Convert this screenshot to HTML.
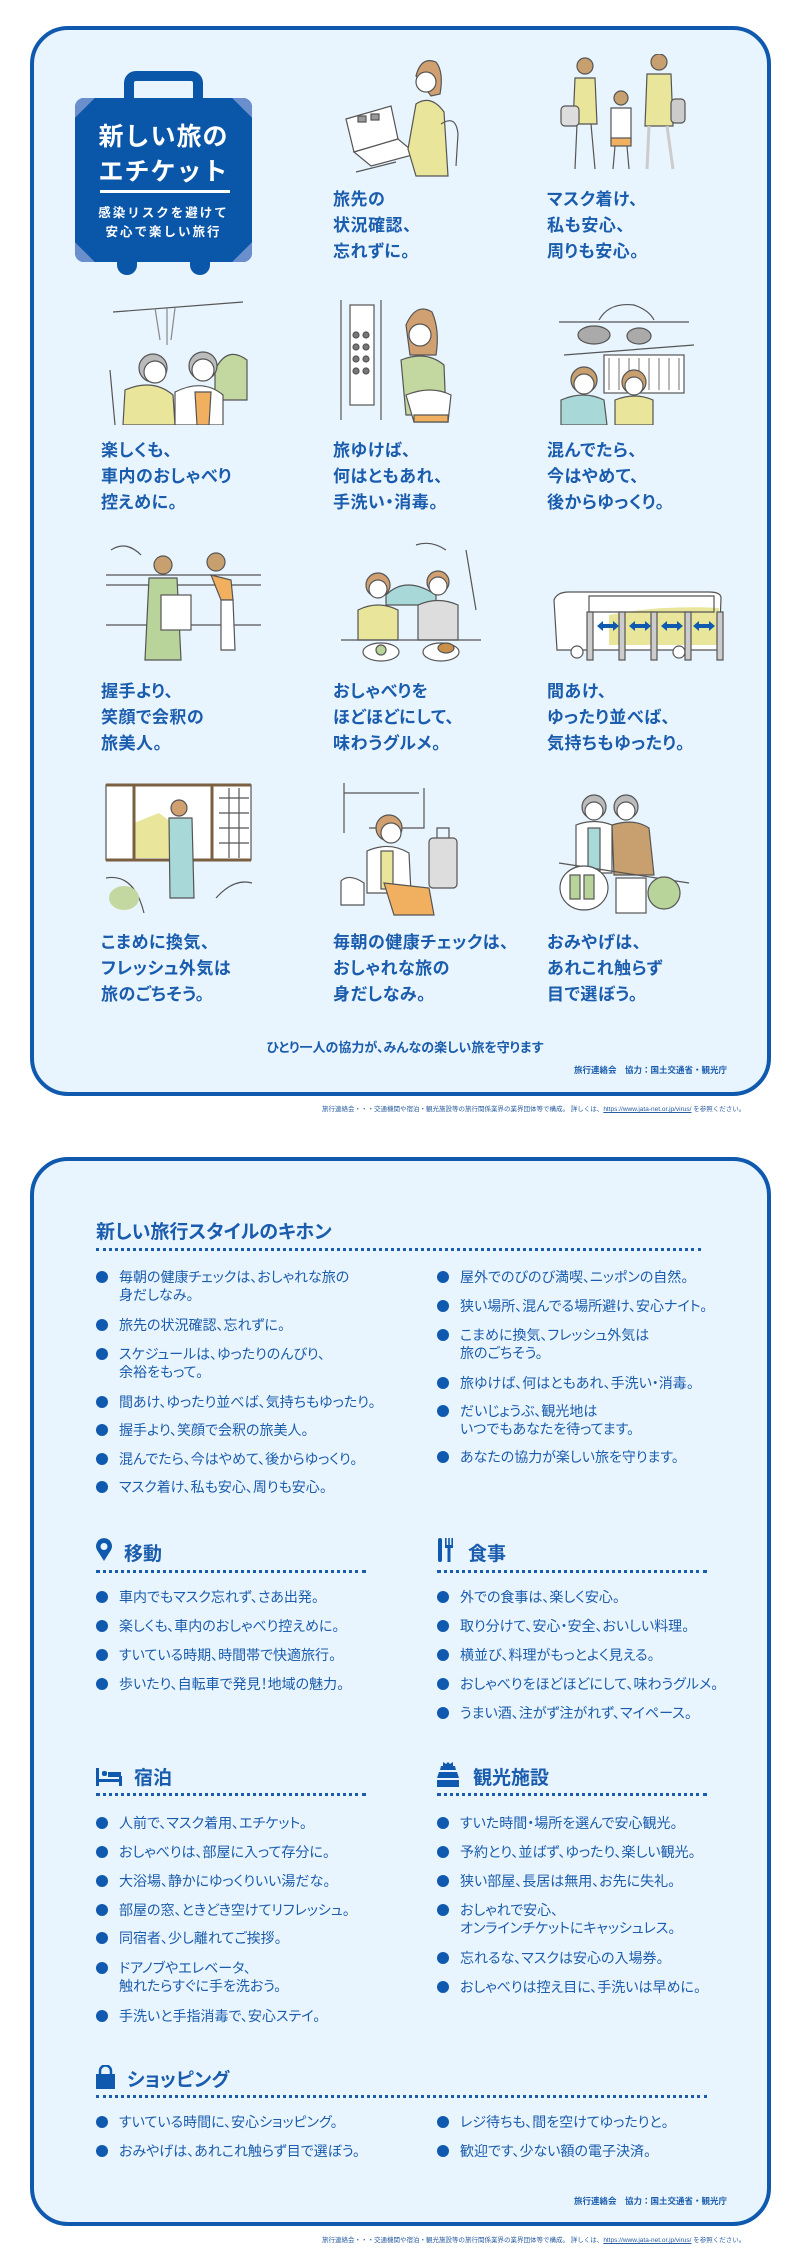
<!DOCTYPE html>
<html><head><meta charset="utf-8">
<style>
*{margin:0;padding:0;box-sizing:border-box}
body{width:800px;height:2263px;background:#fff;position:relative;font-family:"Liberation Sans","Noto Sans CJK JP",sans-serif;color:#1a5cad;overflow:hidden}
.panel{position:absolute;left:30px;width:741px;border:4px solid #0f5aae;border-radius:38px;background:#e9f5fe}
.cap{position:absolute;font-size:17px;font-weight:bold;line-height:26px;white-space:nowrap;letter-spacing:0.5px;font-feature-settings:"palt"}
.abs{position:absolute}
.fn{position:absolute;font-size:6.5px;color:#2a5ca0;white-space:nowrap}
.h{position:absolute;font-size:19px;font-weight:bold;white-space:nowrap;font-feature-settings:"palt"}
.dot{position:absolute;height:0;border-top:3px dotted #1a5cad}
.li{position:absolute;font-size:14px;line-height:18px;white-space:nowrap;padding-left:23px;font-feature-settings:"palt"}
.li:before{content:"";position:absolute;left:0;top:3px;width:12px;height:12px;border-radius:50%;background:#0f5aae}
svg.il{position:absolute}
</style></head><body>

<div class="panel" style="top:26px;height:1070px"></div>

<div class="abs" style="left:124px;top:71px;width:79px;height:34px;border:10px solid #0a56a8;border-bottom:none;border-radius:12px 12px 0 0"></div>
<div class="abs" style="left:117px;top:258px;width:20px;height:17px;background:#0a56a8;border-radius:0 0 10px 10px"></div>
<div class="abs" style="left:190px;top:258px;width:20px;height:17px;background:#0a56a8;border-radius:0 0 10px 10px"></div>
<div class="abs" style="left:75px;top:98px;width:177px;height:164px;background:#0a56a8;border-radius:9px;overflow:hidden">
 <div class="abs" style="left:-14px;top:-14px;width:28px;height:28px;background:#6a8fcc;transform:rotate(45deg)"></div>
 <div class="abs" style="right:-14px;top:-14px;width:28px;height:28px;background:#6a8fcc;transform:rotate(45deg)"></div>
 <div class="abs" style="left:-14px;bottom:-14px;width:28px;height:28px;background:#6a8fcc;transform:rotate(45deg)"></div>
 <div class="abs" style="right:-14px;bottom:-14px;width:28px;height:28px;background:#6a8fcc;transform:rotate(45deg)"></div>
 <div class="abs" style="left:0;width:177px;top:22px;text-align:center;color:#fff;font-size:25px;font-weight:bold;line-height:35px;letter-spacing:1px">新しい旅の<br>エチケット</div>
 <div class="abs" style="left:25px;top:92px;width:130px;height:3px;background:#fff"></div>
 <div class="abs" style="left:0;width:177px;top:106px;text-align:center;color:#fff;font-size:12.5px;font-weight:bold;line-height:19px;letter-spacing:2px">感染リスクを避けて<br>安心で楽しい旅行</div>
</div>

<svg class="il" style="left:336px;top:54px" width="131" height="123" viewBox="0 0 131 123" fill="none" stroke="#555" stroke-width="1.2">
 <path d="M10 65 L55 52 L62 85 L18 98 Z" fill="#fff"/><path d="M18 98 L62 85 L80 100 L35 112 Z" fill="#fff"/>
 <rect x="22" y="62" width="8" height="6" fill="#999"/><rect x="35" y="60" width="8" height="6" fill="#999"/>
 <path d="M80 22 Q85 2 100 8 Q108 18 104 40 L95 42 Z" fill="#d0a070"/>
 <circle cx="90" cy="28" r="10" fill="#fff"/>
 <path d="M80 50 Q95 40 108 58 L112 122 L80 122 L72 95 Z" fill="#e9e59a"/>
 <path d="M105 70 Q120 60 122 80 L120 112" />
 <path d="M20 118 L60 108"/>
</svg>
<svg class="il" style="left:549px;top:54px" width="148" height="123" viewBox="0 0 148 123" stroke="#555" stroke-width="1.2">
 <circle cx="36" cy="12" r="8" fill="#c8a070"/><path d="M26 24 L46 24 L48 70 L24 70 Z" fill="#e9e59a"/>
 <path d="M28 70 L26 115 M42 70 L46 115" fill="none"/><rect x="12" y="52" width="18" height="20" rx="4" fill="#ddd"/>
 <circle cx="110" cy="8" r="8" fill="#c8a070"/><path d="M98 20 L122 20 L124 72 L96 72 Z" fill="#e9e59a"/>
 <path d="M100 72 L98 115 M118 72 L124 115" fill="none" stroke-width="3" stroke="#ccc"/><rect x="122" y="45" width="14" height="24" rx="4" fill="#ccc"/>
 <circle cx="72" cy="44" r="7" fill="#c8a070"/><path d="M62 54 L82 54 L82 88 L62 88 Z" fill="#fff"/>
 <rect x="62" y="84" width="20" height="8" fill="#f0b060"/><path d="M66 92 L64 115 M78 92 L80 115" fill="none"/>
</svg>
<div class="cap" style="left:333px;top:187px">旅先の<br>状況確認、<br>忘れずに。</div>
<div class="cap" style="left:547px;top:187px">マスク着け、<br>私も安心、<br>周りも安心。</div>

<svg class="il" style="left:105px;top:300px" width="146" height="125" viewBox="0 0 146 125" stroke="#555" stroke-width="1.2">
 <path d="M8 12 L138 2" fill="none"/><path d="M50 8 L55 40 M62 8 L62 45 M70 8 L66 40" fill="none" stroke="#888"/>
 <path d="M110 70 Q122 45 142 60 L142 100 L110 100 Z" fill="#c3d8a0"/>
 <circle cx="48" cy="68" r="14" fill="#bbb"/><circle cx="50" cy="72" r="11" fill="#fff"/>
 <path d="M20 90 Q48 78 68 95 L70 125 L18 125 Z" fill="#e9e59a"/>
 <circle cx="98" cy="66" r="14" fill="#bbb"/><circle cx="98" cy="70" r="11" fill="#fff"/>
 <path d="M70 92 Q98 78 118 95 L118 125 L70 125 Z" fill="#fff"/><path d="M90 92 L106 92 L104 125 L92 125 Z" fill="#f0b060"/>
 <path d="M5 70 L10 125" fill="none"/>
</svg>
<svg class="il" style="left:336px;top:300px" width="131" height="125" viewBox="0 0 131 125" stroke="#555" stroke-width="1.2">
 <path d="M5 0 L5 120 M45 0 L45 120" fill="none"/><rect x="14" y="5" width="24" height="100" fill="#fff"/>
 <g fill="#777"><circle cx="20" cy="35" r="3"/><circle cx="30" cy="35" r="3"/><circle cx="20" cy="47" r="3"/><circle cx="30" cy="47" r="3"/><circle cx="20" cy="59" r="3"/><circle cx="30" cy="59" r="3"/><circle cx="20" cy="71" r="3"/><circle cx="30" cy="71" r="3"/></g>
 <path d="M70 25 Q80 2 96 12 Q104 30 100 55 L74 55 Z" fill="#d0a070"/><circle cx="84" cy="35" r="11" fill="#fff"/>
 <path d="M65 60 Q90 50 108 65 L110 115 L70 115 Z" fill="#c3d8a0"/>
 <path d="M70 95 Q95 85 115 95 L112 122 L78 122 Z" fill="#fff"/><path d="M78 115 L112 115 L112 122 L78 122Z" fill="#f0b060"/>
</svg>
<svg class="il" style="left:549px;top:300px" width="148" height="125" viewBox="0 0 148 125" stroke="#555" stroke-width="1.2">
 <path d="M10 22 L140 22" fill="none"/><path d="M50 20 Q60 2 85 5 Q100 10 105 20" fill="none"/>
 <ellipse cx="45" cy="35" rx="16" ry="9" fill="#aaa"/><ellipse cx="90" cy="36" rx="12" ry="8" fill="#aaa"/>
 <path d="M15 55 L145 45" fill="none"/>
 <g fill="#fff"><rect x="55" y="55" width="80" height="38"/></g>
 <g stroke="#888" fill="none"><path d="M60 58 v32 M70 58 v32 M80 58 v32 M90 58 v32 M100 58 v32 M110 58 v32 M120 58 v32 M130 58 v32"/></g>
 <circle cx="35" cy="80" r="13" fill="#c8a070"/><circle cx="35" cy="84" r="10" fill="#fff"/>
 <path d="M12 100 Q35 90 55 100 L58 125 L12 125 Z" fill="#a8d8d8"/>
 <circle cx="85" cy="82" r="12" fill="#c8a070"/><circle cx="85" cy="86" r="9" fill="#fff"/>
 <path d="M66 100 Q86 92 104 100 L104 125 L66 125 Z" fill="#e9e59a"/>
</svg>
<div class="cap" style="left:101px;top:438px">楽しくも、<br>車内のおしゃべり<br>控えめに。</div>
<div class="cap" style="left:333px;top:438px">旅ゆけば、<br>何はともあれ、<br>手洗い・消毒。</div>
<div class="cap" style="left:547px;top:438px">混んでたら、<br>今はやめて、<br>後からゆっくり。</div>

<svg class="il" style="left:101px;top:540px" width="166" height="127" viewBox="0 0 166 127" stroke="#555" stroke-width="1.2">
 <path d="M5 35 L160 35 M5 45 L160 45 M5 85 L160 85" fill="none"/><path d="M10 10 Q25 0 40 15" fill="none"/>
 <circle cx="62" cy="25" r="9" fill="#c8a070"/><path d="M48 38 L76 38 L80 120 L44 120 Z" fill="#b8d49a"/>
 <rect x="60" y="55" width="30" height="35" fill="#fff"/>
 <circle cx="115" cy="22" r="9" fill="#c8a070"/><path d="M110 35 L130 40 L132 60 L120 60 Z" fill="#f0b060"/>
 <path d="M120 60 L132 60 L134 110 L120 110 Z" fill="#fff"/>
</svg>
<svg class="il" style="left:336px;top:540px" width="150" height="127" viewBox="0 0 150 127" stroke="#555" stroke-width="1.2">
 <path d="M80 5 Q95 0 110 10 M130 10 L140 70" fill="none"/>
 <path d="M50 55 Q70 35 100 55 L100 65 L50 65 Z" fill="#a8d8d8"/>
 <circle cx="42" cy="45" r="12" fill="#d0a070"/><circle cx="42" cy="49" r="9" fill="#fff"/>
 <path d="M22 70 Q42 60 62 70 L62 100 L22 100 Z" fill="#e9e59a"/>
 <circle cx="102" cy="42" r="11" fill="#d0a070"/><circle cx="102" cy="46" r="9" fill="#fff"/>
 <path d="M82 65 Q102 56 122 65 L122 100 L82 100 Z" fill="#ddd"/>
 <path d="M5 100 L145 100" fill="none"/>
 <ellipse cx="45" cy="112" rx="18" ry="9" fill="#fff"/><ellipse cx="105" cy="112" rx="18" ry="9" fill="#fff"/>
 <ellipse cx="110" cy="108" rx="8" ry="5" fill="#c8904a"/><circle cx="45" cy="110" r="5" fill="#b8d49a"/>
</svg>
<svg class="il" style="left:549px;top:540px" width="182" height="127" viewBox="0 0 182 127" stroke="#555" stroke-width="1.2">
 <path d="M5 60 L8 110 L170 110 L172 58 Q172 52 160 52 L20 52 Q8 52 5 60 Z" fill="#fff"/>
 <path d="M60 75 Q110 65 170 68 L170 105 L60 105 Z" fill="#e9e59a" stroke="none"/>
 <path d="M40 56 L165 56 L165 72 L40 72 Z" fill="none"/>
 <circle cx="28" cy="112" r="6" fill="#fff"/><circle cx="130" cy="112" r="6" fill="#fff"/>
 <g fill="#0f5aae" stroke="none"><path d="M48 86 l6 -5 v3 h10 v-3 l6 5 l-6 5 v-3 h-10 v3 z"/><path d="M80 86 l6 -5 v3 h10 v-3 l6 5 l-6 5 v-3 h-10 v3 z"/><path d="M112 86 l6 -5 v3 h10 v-3 l6 5 l-6 5 v-3 h-10 v3 z"/><path d="M144 86 l6 -5 v3 h10 v-3 l6 5 l-6 5 v-3 h-10 v3 z"/></g>
 <g fill="#ccc"><rect x="38" y="72" width="6" height="48"/><rect x="70" y="72" width="6" height="48"/><rect x="102" y="72" width="6" height="48"/><rect x="136" y="72" width="6" height="48"/><rect x="168" y="72" width="6" height="48"/></g>
</svg>
<div class="cap" style="left:101px;top:679px">握手より、<br>笑顔で会釈の<br>旅美人。</div>
<div class="cap" style="left:333px;top:679px">おしゃべりを<br>ほどほどにして、<br>味わうグルメ。</div>
<div class="cap" style="left:547px;top:679px">間あけ、<br>ゆったり並べば、<br>気持ちもゆったり。</div>

<svg class="il" style="left:104px;top:783px" width="150" height="134" viewBox="0 0 150 134" stroke="#555" stroke-width="1.2">
 <rect x="2" y="2" width="145" height="75" fill="#fff"/><path d="M30 40 L55 30 L75 45 L75 75 L30 75 Z" fill="#e9e59a" stroke="none"/>
 <path d="M2 2 H147 M2 77 H147 M30 2 V77 M108 2 V77" fill="none" stroke="#7a6040" stroke-width="3"/>
 <path d="M115 15 H145 M115 30 H145 M115 45 H145 M115 60 H145 M125 5 V75 M135 5 V75" fill="none"/>
 <circle cx="75" cy="25" r="8" fill="#d0a070"/><path d="M65 35 L88 35 L90 115 L66 115 Z" fill="#a8d8d8"/>
 <path d="M2 95 Q30 90 40 130 M112 115 Q130 95 148 100" fill="none"/><ellipse cx="20" cy="115" rx="15" ry="12" fill="#c3d8a0" stroke="none"/>
</svg>
<svg class="il" style="left:339px;top:783px" width="140" height="134" viewBox="0 0 140 134" stroke="#555" stroke-width="1.2">
 <path d="M5 0 V50 M5 10 H80 M85 5 V45 H30" fill="none"/>
 <circle cx="50" cy="45" r="13" fill="#d0a070"/><circle cx="52" cy="50" r="10" fill="#fff"/>
 <path d="M28 68 Q50 58 70 70 L72 110 L28 110 Z" fill="#fff"/><rect x="42" y="68" width="12" height="38" fill="#e9e59a"/>
 <path d="M45 100 L90 105 L95 132 L55 132 Z" fill="#f0b060"/>
 <rect x="90" y="55" width="28" height="50" rx="4" fill="#ddd"/><path d="M98 55 V45 H110 V55" fill="none"/>
 <path d="M2 98 Q10 90 25 100 L25 122 L2 122 Z" fill="#fff"/>
</svg>
<svg class="il" style="left:554px;top:783px" width="140" height="134" viewBox="0 0 140 134" stroke="#555" stroke-width="1.2">
 <circle cx="40" cy="24" r="12" fill="#bbb"/><circle cx="40" cy="28" r="9" fill="#fff"/>
 <circle cx="72" cy="24" r="12" fill="#bbb"/><circle cx="72" cy="28" r="9" fill="#fff"/>
 <path d="M22 42 Q40 35 58 42 L58 90 L22 90 Z" fill="#fff"/><rect x="34" y="45" width="12" height="45" fill="#a8d8d8"/>
 <path d="M58 42 Q80 35 95 45 L100 92 L60 92 Z" fill="#c8a070"/>
 <path d="M5 80 L135 100" fill="none"/>
 <ellipse cx="30" cy="105" rx="24" ry="22" fill="#fff"/><rect x="16" y="92" width="10" height="24" fill="#b8d49a"/><rect x="30" y="92" width="10" height="24" fill="#b8d49a"/>
 <rect x="62" y="95" width="30" height="35" fill="#fff"/><circle cx="110" cy="110" r="16" fill="#b8d49a"/>
</svg>
<div class="cap" style="left:101px;top:930px">こまめに換気、<br>フレッシュ外気は<br>旅のごちそう。</div>
<div class="cap" style="left:333px;top:930px">毎朝の健康チェックは、<br>おしゃれな旅の<br>身だしなみ。</div>
<div class="cap" style="left:547px;top:930px">おみやげは、<br>あれこれ触らず<br>目で選ぼう。</div>

<div class="abs" style="left:0;width:810px;top:1037px;text-align:center;font-size:13px;font-weight:bold;white-space:nowrap;font-feature-settings:'palt'">ひとり一人の協力が、みんなの楽しい旅を守ります</div>
<div class="abs" style="right:73px;top:1064px;font-size:8.5px;font-weight:bold;white-space:nowrap">旅行連絡会　協力：国土交通省・観光庁</div>
<div class="fn" style="left:322px;top:1103px">旅行連絡会・・・交通機関や宿泊・観光施設等の旅行関係業界の業界団体等で構成。 詳しくは、<u>https://www.jata-net.or.jp/virus/</u> を参照ください。</div>

<div class="panel" style="top:1157px;height:1069px"></div>

<div class="h" style="left:96px;top:1217px">新しい旅行スタイルのキホン</div>
<div class="dot" style="left:96px;top:1248px;width:605px"></div>

<div class="li" style="left:96px;top:1268px">毎朝の健康チェックは、おしゃれな旅の<br>身だしなみ。</div>
<div class="li" style="left:96px;top:1316px">旅先の状況確認、忘れずに。</div>
<div class="li" style="left:96px;top:1345px">スケジュールは、ゆったりのんびり、<br>余裕をもって。</div>
<div class="li" style="left:96px;top:1393px">間あけ、ゆったり並べば、気持ちもゆったり。</div>
<div class="li" style="left:96px;top:1421px">握手より、笑顔で会釈の旅美人。</div>
<div class="li" style="left:96px;top:1450px">混んでたら、今はやめて、後からゆっくり。</div>
<div class="li" style="left:96px;top:1478px">マスク着け、私も安心、周りも安心。</div>

<div class="li" style="left:437px;top:1268px">屋外でのびのび満喫、ニッポンの自然。</div>
<div class="li" style="left:437px;top:1297px">狭い場所、混んでる場所避け、安心ナイト。</div>
<div class="li" style="left:437px;top:1326px">こまめに換気、フレッシュ外気は<br>旅のごちそう。</div>
<div class="li" style="left:437px;top:1374px">旅ゆけば、何はともあれ、手洗い・消毒。</div>
<div class="li" style="left:437px;top:1402px">だいじょうぶ、観光地は<br>いつでもあなたを待ってます。</div>
<div class="li" style="left:437px;top:1448px">あなたの協力が楽しい旅を守ります。</div>

<svg class="abs" style="left:95px;top:1538px" width="18" height="24" viewBox="0 0 18 24"><path d="M9 23 L2 12 A8 8 0 1 1 16 12 Z" fill="#0f5aae"/><circle cx="9" cy="8.5" r="3.5" fill="#e9f5fe"/></svg>
<div class="h" style="left:124px;top:1539px">移動</div>
<div class="dot" style="left:96px;top:1570px;width:270px"></div>
<div class="li" style="left:96px;top:1588px">車内でもマスク忘れず、さあ出発。</div>
<div class="li" style="left:96px;top:1617px">楽しくも、車内のおしゃべり控えめに。</div>
<div class="li" style="left:96px;top:1646px">すいている時期、時間帯で快適旅行。</div>
<div class="li" style="left:96px;top:1675px">歩いたり、自転車で発見！地域の魅力。</div>

<svg class="abs" style="left:436px;top:1538px" width="20" height="24" viewBox="0 0 20 24" fill="#0f5aae"><rect x="2" y="0" width="4" height="24" rx="2"/><rect x="9" y="0" width="1.6" height="9"/><rect x="12.2" y="0" width="1.6" height="9"/><rect x="15.4" y="0" width="1.6" height="9"/><rect x="9" y="7" width="8" height="3"/><rect x="11.5" y="8" width="3" height="16"/></svg>
<div class="h" style="left:468px;top:1539px">食事</div>
<div class="dot" style="left:437px;top:1570px;width:270px"></div>
<div class="li" style="left:437px;top:1588px">外での食事は、楽しく安心。</div>
<div class="li" style="left:437px;top:1617px">取り分けて、安心・安全、おいしい料理。</div>
<div class="li" style="left:437px;top:1646px">横並び、料理がもっとよく見える。</div>
<div class="li" style="left:437px;top:1675px">おしゃべりをほどほどにして、味わうグルメ。</div>
<div class="li" style="left:437px;top:1704px">うまい酒、注がず注がれず、マイペース。</div>

<svg class="abs" style="left:96px;top:1768px" width="26" height="18" viewBox="0 0 26 18" fill="#0f5aae"><rect x="0" y="0" width="3" height="18"/><rect x="0" y="11" width="26" height="3"/><rect x="23" y="8" width="3" height="10"/><rect x="6" y="3" width="5" height="5" rx="2"/><rect x="12" y="4" width="13" height="5"/></svg>
<div class="h" style="left:134px;top:1763px">宿泊</div>
<div class="dot" style="left:96px;top:1793px;width:270px"></div>
<div class="li" style="left:96px;top:1814px">人前で、マスク着用、エチケット。</div>
<div class="li" style="left:96px;top:1843px">おしゃべりは、部屋に入って存分に。</div>
<div class="li" style="left:96px;top:1872px">大浴場、静かにゆっくりいい湯だな。</div>
<div class="li" style="left:96px;top:1901px">部屋の窓、ときどき空けてリフレッシュ。</div>
<div class="li" style="left:96px;top:1929px">同宿者、少し離れてご挨拶。</div>
<div class="li" style="left:96px;top:1959px">ドアノブやエレベータ、<br>触れたらすぐに手を洗おう。</div>
<div class="li" style="left:96px;top:2007px">手洗いと手指消毒で、安心ステイ。</div>

<svg class="abs" style="left:437px;top:1762px" width="22" height="25" viewBox="0 0 22 25" fill="#0f5aae"><path d="M6 0 L6 4 L4 4 L3 8 L19 8 L18 4 L16 4 L16 0 L13 2 L11 0 L9 2 Z"/><path d="M2 10 L20 10 L22 16 L0 16 Z"/><path d="M0 18 L22 18 L22 25 L0 25 Z"/></svg>
<div class="h" style="left:473px;top:1763px">観光施設</div>
<div class="dot" style="left:437px;top:1793px;width:270px"></div>
<div class="li" style="left:437px;top:1814px">すいた時間・場所を選んで安心観光。</div>
<div class="li" style="left:437px;top:1843px">予約とり、並ばず、ゆったり、楽しい観光。</div>
<div class="li" style="left:437px;top:1872px">狭い部屋、長居は無用、お先に失礼。</div>
<div class="li" style="left:437px;top:1901px">おしゃれで安心、<br>オンラインチケットにキャッシュレス。</div>
<div class="li" style="left:437px;top:1949px">忘れるな、マスクは安心の入場券。</div>
<div class="li" style="left:437px;top:1978px">おしゃべりは控え目に、手洗いは早めに。</div>

<svg class="abs" style="left:96px;top:2065px" width="19" height="24" viewBox="0 0 19 24"><path d="M4 9 V6 A5.5 5.5 0 0 1 15 6 V9" fill="none" stroke="#0f5aae" stroke-width="2.5"/><rect x="0" y="9" width="19" height="15" fill="#0f5aae"/></svg>
<div class="h" style="left:127px;top:2065px">ショッピング</div>
<div class="dot" style="left:96px;top:2095px;width:611px"></div>
<div class="li" style="left:96px;top:2113px">すいている時間に、安心ショッピング。</div>
<div class="li" style="left:96px;top:2142px">おみやげは、あれこれ触らず目で選ぼう。</div>
<div class="li" style="left:437px;top:2113px">レジ待ちも、間を空けてゆったりと。</div>
<div class="li" style="left:437px;top:2142px">歓迎です、少ない額の電子決済。</div>

<div class="abs" style="right:73px;top:2195px;font-size:8.5px;font-weight:bold;white-space:nowrap">旅行連絡会　協力：国土交通省・観光庁</div>
<div class="fn" style="left:322px;top:2234px">旅行連絡会・・・交通機関や宿泊・観光施設等の旅行関係業界の業界団体等で構成。 詳しくは、<u>https://www.jata-net.or.jp/virus/</u> を参照ください。</div>

</body></html>
